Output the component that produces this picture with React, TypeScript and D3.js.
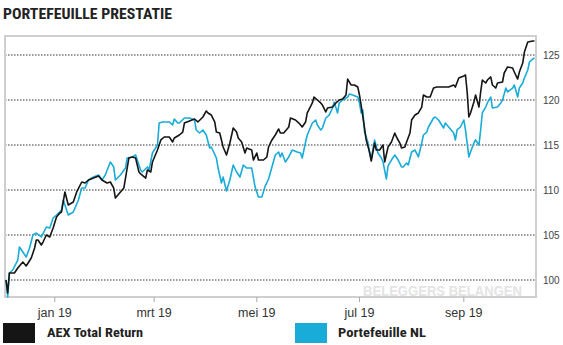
import React from "react";
import * as d3 from "d3";

const aexDates = ["2018-12-03","2018-12-04","2018-12-05","2018-12-08","2018-12-10","2018-12-13","2018-12-15","2018-12-18","2018-12-20","2018-12-21","2018-12-22","2018-12-24","2018-12-25","2018-12-27","2018-12-29","2018-12-31","2019-01-02","2019-01-04","2019-01-05","2019-01-07","2019-01-09","2019-01-12","2019-01-14","2019-01-17","2019-01-19","2019-01-21","2019-01-24","2019-01-27","2019-01-29","2019-02-01","2019-02-03","2019-02-05","2019-02-06","2019-02-09","2019-02-11","2019-02-13","2019-02-14","2019-02-16","2019-02-18","2019-02-20","2019-02-21","2019-02-24","2019-02-25","2019-02-27","2019-02-28","2019-03-03","2019-03-05","2019-03-07","2019-03-10","2019-03-12","2019-03-13","2019-03-16","2019-03-18","2019-03-19","2019-03-22","2019-03-25","2019-03-27","2019-03-30","2019-04-01","2019-04-02","2019-04-04","2019-04-06","2019-04-07","2019-04-09","2019-04-11","2019-04-13","2019-04-15","2019-04-17","2019-04-19","2019-04-20","2019-04-22","2019-04-24","2019-04-25","2019-04-28","2019-04-29","2019-05-01","2019-05-02","2019-05-05","2019-05-07","2019-05-08","2019-05-10","2019-05-12","2019-05-14","2019-05-15","2019-05-17","2019-05-20","2019-05-21","2019-05-24","2019-05-26","2019-05-28","2019-05-30","2019-05-31","2019-06-03","2019-06-04","2019-06-06","2019-06-08","2019-06-09","2019-06-11","2019-06-12","2019-06-15","2019-06-17","2019-06-19","2019-06-21","2019-06-23","2019-06-24","2019-06-26","2019-06-28","2019-06-30","2019-07-01","2019-07-02","2019-07-04","2019-07-05","2019-07-07","2019-07-08","2019-07-10","2019-07-11","2019-07-13","2019-07-15","2019-07-16","2019-07-18","2019-07-20","2019-07-22","2019-07-23","2019-07-25","2019-07-26","2019-07-28","2019-07-29","2019-07-31","2019-08-01","2019-08-03","2019-08-05","2019-08-07","2019-08-08","2019-08-10","2019-08-12","2019-08-14","2019-08-16","2019-08-20","2019-08-23","2019-08-26","2019-08-27","2019-08-29","2019-09-01","2019-09-02","2019-09-03","2019-09-04","2019-09-05","2019-09-07","2019-09-08","2019-09-10","2019-09-11","2019-09-12","2019-09-14","2019-09-15","2019-09-17","2019-09-18","2019-09-20","2019-09-21","2019-09-24","2019-09-25","2019-09-27","2019-09-30","2019-10-01","2019-10-03","2019-10-04","2019-10-06","2019-10-07","2019-10-09","2019-10-12","2019-10-13"];
const aexValues = [100,98.56,100.78,100.78,101.33,102.0,101.56,102.44,103.56,104.44,104.44,103.89,104.22,105.0,104.78,105.78,107.0,107.44,107.56,109.78,108.33,108.67,109.78,110.89,110.78,111.11,111.33,111.56,111.11,110.78,110.89,110.22,109.11,109.78,110.22,112.44,113.56,113.67,113.56,112.0,111.78,111.33,112.22,112.0,113.11,114.44,115.56,115.89,115.89,115.33,115.78,116.11,116.44,117.44,117.67,117.89,117.56,118.11,118.78,118.56,118.33,117.56,116.44,116.33,114.78,113.89,115.22,116.89,116.44,115.78,115.33,114.11,114.67,114.44,113.33,114.11,113.33,113.33,113.67,114.78,115.56,116.11,116.78,116.33,116.33,117.0,118.0,117.78,117.44,117.0,117.56,118.56,119.67,120.33,120.0,119.67,119.44,118.67,119.11,119.22,119.67,120.0,120.11,120.56,122.33,121.67,121.67,121.44,120.56,119.44,116.89,115.56,114.22,113.22,115.22,114.44,114.44,115.0,113.11,114.78,115.33,116.33,115.89,115.22,114.67,114.78,115.33,116.33,117.78,118.33,118.56,119.22,120.56,120.33,120.33,121.33,121.44,121.44,121.44,121.67,121.44,122.44,122.67,122.78,120.89,118.11,118.56,119.78,120.56,119.22,120.89,122.22,121.89,122.22,122.56,121.67,121.33,121.89,122.0,123.0,123.67,123.56,123.11,122.33,123.11,124.11,125.33,126.44,126.56,126.56];

const nlDates = ["2018-12-03","2018-12-04","2018-12-05","2018-12-07","2018-12-10","2018-12-11","2018-12-13","2018-12-15","2018-12-17","2018-12-19","2018-12-21","2018-12-24","2018-12-27","2018-12-29","2018-12-31","2019-01-02","2019-01-05","2019-01-06","2019-01-09","2019-01-12","2019-01-15","2019-01-17","2019-01-19","2019-01-21","2019-01-24","2019-01-27","2019-01-29","2019-01-31","2019-02-03","2019-02-05","2019-02-06","2019-02-09","2019-02-12","2019-02-13","2019-02-16","2019-02-18","2019-02-19","2019-02-21","2019-02-22","2019-02-25","2019-02-26","2019-02-28","2019-03-03","2019-03-04","2019-03-06","2019-03-10","2019-03-12","2019-03-13","2019-03-15","2019-03-16","2019-03-19","2019-03-22","2019-03-25","2019-03-26","2019-03-28","2019-03-30","2019-04-01","2019-04-03","2019-04-04","2019-04-07","2019-04-08","2019-04-10","2019-04-11","2019-04-13","2019-04-15","2019-04-17","2019-04-19","2019-04-21","2019-04-23","2019-04-25","2019-04-28","2019-04-30","2019-05-02","2019-05-04","2019-05-06","2019-05-08","2019-05-10","2019-05-12","2019-05-14","2019-05-15","2019-05-16","2019-05-18","2019-05-20","2019-05-22","2019-05-25","2019-05-27","2019-05-28","2019-05-30","2019-05-31","2019-06-03","2019-06-05","2019-06-06","2019-06-08","2019-06-09","2019-06-11","2019-06-13","2019-06-15","2019-06-16","2019-06-18","2019-06-19","2019-06-21","2019-06-24","2019-06-25","2019-06-27","2019-06-30","2019-07-01","2019-07-02","2019-07-03","2019-07-04","2019-07-06","2019-07-07","2019-07-08","2019-07-10","2019-07-12","2019-07-14","2019-07-15","2019-07-17","2019-07-18","2019-07-20","2019-07-22","2019-07-24","2019-07-26","2019-07-27","2019-07-29","2019-07-30","2019-08-01","2019-08-03","2019-08-05","2019-08-07","2019-08-08","2019-08-10","2019-08-11","2019-08-14","2019-08-15","2019-08-17","2019-08-20","2019-08-21","2019-08-23","2019-08-26","2019-08-27","2019-08-28","2019-08-30","2019-09-01","2019-09-02","2019-09-04","2019-09-05","2019-09-07","2019-09-08","2019-09-10","2019-09-11","2019-09-12","2019-09-14","2019-09-15","2019-09-17","2019-09-18","2019-09-21","2019-09-23","2019-09-24","2019-09-26","2019-09-27","2019-09-30","2019-10-01","2019-10-03","2019-10-04","2019-10-06","2019-10-07","2019-10-09","2019-10-10","2019-10-12","2019-10-13"];
const nlValues = [100,98.11,100.78,101.11,102.22,103.67,103.11,102.56,103.56,105.0,105.22,104.78,105.89,105.78,106.89,107.22,107.78,108.89,107.22,107.56,108.89,110.22,110.22,111.11,111.44,111.67,111.11,111.67,113.11,112.56,111.11,111.67,112.44,113.56,113.67,113.89,113.33,112.22,112.0,112.56,112.22,114.11,115.0,117.44,117.56,117.56,117.22,117.89,117.44,117.44,118.0,118.0,117.78,116.67,116.33,116.67,116.11,114.67,114.78,113.56,112.44,110.78,111.44,109.89,111.11,112.78,112.0,111.44,112.78,112.44,112.44,110.33,109.22,109.22,110.44,111.22,112.56,113.89,114.22,113.67,114.11,113.11,113.67,114.44,114.22,114.11,113.56,115.33,116.11,117.44,117.78,117.22,116.67,116.89,118.0,118.33,119.11,119.78,118.56,119.67,120.0,120.33,120.67,120.56,120.33,119.67,118.56,118.89,116.44,115.33,114.11,113.44,115.56,114.11,113.56,113.11,111.22,112.67,113.33,113.89,113.33,112.56,112.56,113.0,112.78,114.22,114.44,113.67,115.22,116.11,116.44,117.0,118.0,118.11,117.78,116.89,117.44,117.0,116.33,115.56,116.67,117.0,117.78,116.67,113.67,114.22,115.22,115.56,115.0,116.67,118.56,119.22,119.67,120.33,119.11,119.22,119.67,120.0,121.33,120.89,121.33,121.67,120.33,121.33,121.89,122.44,123.33,124.22,124.56,124.67];

const yTicks = [100, 105, 110, 115, 120, 125];
const monthTicks = ["2019-01-01", "2019-03-01", "2019-05-01", "2019-07-01", "2019-09-01"];
const monthLabels = ["jan 19", "mrt 19", "mei 19", "jul 19", "sep 19"];
const seriesNames = ["AEX Total Return", "Portefeuille NL"];
const seriesColors = ["#151515", "#1aacd8"];

const parse = d3.timeParse("%Y-%m-%d");

export default function App() {
  const W = 563, H = 345;
  const left = 5, right = 536, top = 36, bottom = 297;
  const x = d3.scaleTime()
    .domain([parse("2018-12-03")!, parse("2019-10-13")!])
    .range([6, 534.5]);
  const y = d3.scaleLinear().domain([100, 125]).range([280, 55]);
  const line = d3.line<[Date, number]>()
    .x((d) => x(d[0]))
    .y((d) => y(d[1]));
  const aex: [Date, number][] = aexDates.map((d, i) => [parse(d)!, aexValues[i]]);
  const nl: [Date, number][] = nlDates.map((d, i) => [parse(d)!, nlValues[i]]);
  const condensed = "'Liberation Sans Narrow', 'Arial Narrow', 'Roboto Condensed', Arial, sans-serif";
  const sans = "Arial, 'Liberation Sans', Helvetica, sans-serif";

  return (
    <svg width={W} height={H} style={{ position: "absolute", left: 0, top: 0, background: "#fff" }}>
      <text x={3} y={18.5} fontFamily={condensed} fontWeight="bold" fontSize={15.5} fill="#222"
        textLength={169} lengthAdjust="spacingAndGlyphs">PORTEFEUILLE PRESTATIE</text>

      {yTicks.map((t) => (
        <g key={t}>
          <line x1={left} x2={right} y1={y(t)} y2={y(t)} stroke="#333" strokeWidth={1} strokeDasharray="1.5,1.5" />
          <text x={543} y={y(t) + 3.5} fontFamily={sans} fontSize={10} fill="#444">{t}</text>
        </g>
      ))}

      <text x={363} y={296} fontFamily={sans} fontWeight="bold" fontSize={14.5} fill="#e4e4e4"
        textLength={159} lengthAdjust="spacingAndGlyphs">BELEGGERS BELANGEN</text>

      <rect x={left} y={top} width={right - left} height={bottom - top} fill="none" stroke="#cfcfcf" strokeWidth={2} />

      {monthTicks.map((m, i) => {
        const px = x(parse(m)!);
        return (
          <g key={m}>
            <line x1={px} x2={px} y1={bottom} y2={bottom + 5} stroke="#aaa" strokeWidth={1} />
            <text x={px} y={317} textAnchor="middle" fontFamily={sans} fontSize={12.5} fill="#333">{monthLabels[i]}</text>
          </g>
        );
      })}

      <path d={line(nl) || ""} fill="none" stroke={seriesColors[1]} strokeWidth={1.6} strokeLinejoin="round" />
      <path d={line(aex) || ""} fill="none" stroke={seriesColors[0]} strokeWidth={1.6} strokeLinejoin="round" />

      <rect x={3} y={323} width={32} height={20} fill={seriesColors[0]} />
      <text x={47} y={337} fontFamily={condensed} fontWeight="bold" fontSize={13} fill="#222"
        textLength={96} lengthAdjust="spacingAndGlyphs">{seriesNames[0]}</text>
      <rect x={295} y={323} width={32} height={20} fill={seriesColors[1]} />
      <text x={338} y={337} fontFamily={condensed} fontWeight="bold" fontSize={13} fill="#222"
        textLength={88} lengthAdjust="spacingAndGlyphs">{seriesNames[1]}</text>
    </svg>
  );
}
